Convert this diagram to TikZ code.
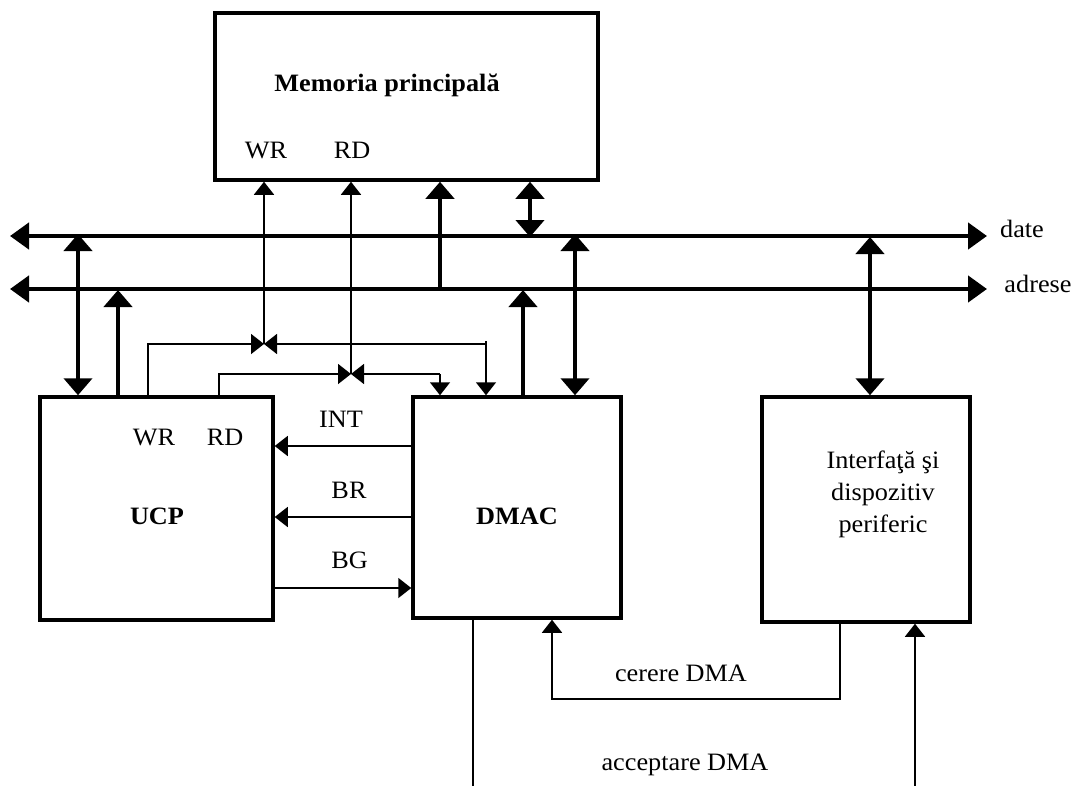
\documentclass[tikz,border=0pt]{standalone}
\usepackage{fontspec}
\setmainfont{Liberation Serif}[FakeStretch=1.05]
\usetikzlibrary{arrows.meta}
\begin{document}
\begin{tikzpicture}[x=1pt,y=-1pt,
  box/.style={draw,line width=3.5pt,inner sep=0pt},
  lbl/.style={inner sep=0pt,anchor=base,font=\fontsize{25}{32}\selectfont},
  bus/.style={line width=4.5pt,{Triangle[length=19pt,width=26pt]}-{Triangle[length=19pt,width=26pt]}},
  fat/.style={line width=4.5pt},
  fattip/.style={-{Triangle[length=17pt,width=28pt]}},
  fatboth/.style={{Triangle[length=17pt,width=28pt]}-{Triangle[length=17pt,width=28pt]}},
  sig/.style={line width=1.6pt},
  sigtip/.style={-{Triangle[length=13pt,width=20pt]}}]
\useasboundingbox (0,0) rectangle (1079,785);
\fill[white] (0,0) rectangle (1079,785);

% blocks
\node[box,minimum width=383pt,minimum height=167pt] (mem) at (406.5,96.5) {};
\node[box,minimum width=233pt,minimum height=223pt] (ucp) at (156.5,508.5) {};
\node[box,minimum width=208pt,minimum height=221pt] (dmac) at (517,507.5) {};
\node[box,minimum width=208pt,minimum height=225pt] (intf) at (866,509.5) {};

% block texts
\node[lbl,font=\fontsize{25}{32}\selectfont\bfseries] (tmem) at (387,91) {Memoria principală};
\node[lbl] (memwr) at (266,158) {WR};
\node[lbl] (memrd) at (352,158) {RD};
\node[lbl] (ucpwr) at (154,445) {WR};
\node[lbl] (ucprd) at (225,445) {RD};
\node[lbl,font=\fontsize{25}{32}\selectfont\bfseries] (tucp) at (157,524) {UCP};
\node[lbl,font=\fontsize{25}{32}\selectfont\bfseries] (tdmac) at (517,524) {DMAC};
\node[lbl,align=center,anchor=base] (tintf) at (883,532) {Interfaţă şi\\dispozitiv\\periferic};

% buses
\coordinate (dL) at (10,236);
\coordinate (dR) at (987,236);
\coordinate (aL) at (10,289);
\coordinate (aR) at (987,289);
\draw[bus] (dL) -- (dR);
\draw[bus] (aL) -- (aR);
\node[lbl] (tdate) at (1022,237) {date};
\node[lbl] (tadr) at (1038,292) {adrese};

% bus taps
\coordinate (u1) at (78,234);
\coordinate (u2) at (118,290);
\coordinate (m1) at (440,289);
\coordinate (m2) at (530,237);
\coordinate (d1) at (523,290);
\coordinate (d2) at (575,234);
\coordinate (p1) at (870,237);
\draw[fat,fatboth] (u1) -- (u1 |- ucp.north);
\draw[fat,fattip] (u2 |- ucp.north) -- (u2);
\draw[fat,fattip] (m1) -- (m1 |- mem.south);
\draw[fat,fatboth] (m2) -- (m2 |- mem.south);
\draw[fat,fattip] (d1 |- dmac.north) -- (d1);
\draw[fat,fatboth] (d2) -- (d2 |- dmac.north);
\draw[fat,fatboth] (p1) -- (p1 |- intf.north);

% WR and RD control lines
\coordinate (jwr) at (264,344);
\coordinate (jrd) at (351,374);
\coordinate (uwr) at (148,0);
\coordinate (urd) at (219,0);
\coordinate (dwr) at (486,344);
\coordinate (dwrtop) at (486,341);
\coordinate (drd) at (440,374);
\draw[sig,sigtip] (jwr) -- (jwr |- mem.south);
\draw[sig,sigtip] (jrd) -- (jrd |- mem.south);
\draw[sig,sigtip] (uwr |- ucp.north) |- (jwr);
\draw[sig,sigtip] (urd |- ucp.north) |- (jrd);
\draw[sig,sigtip] (dwr) -- (jwr);
\draw[sig,sigtip] (dwrtop) -- (dwrtop |- dmac.north);
\draw[sig,sigtip] (drd) -- (jrd);
\draw[sig,sigtip] (drd) -- (drd |- dmac.north);

% INT, BR, BG
\coordinate (yint) at (0,446);
\coordinate (ybr) at (0,517);
\coordinate (ybg) at (0,588);
\draw[sig,sigtip] (dmac.west |- yint) -- (ucp.east |- yint);
\draw[sig,sigtip] (dmac.west |- ybr) -- (ucp.east |- ybr);
\draw[sig,sigtip] (ucp.east |- ybg) -- (dmac.west |- ybg);
\node[lbl] (tint) at (341,427) {INT};
\node[lbl] (tbr) at (349,498) {BR};
\node[lbl] (tbg) at (349.5,568) {BG};

% DMA request / acknowledge
\coordinate (cer) at (840,699);
\coordinate (cerL) at (552,0);
\coordinate (acc1) at (473,790);
\coordinate (acc2) at (915,790);
\draw[sig,sigtip] (intf.south -| cer) -- (cer) -| (dmac.south -| cerL);
\draw[sig] (dmac.south -| acc1) -- (acc1);
\draw[sig,sigtip] (acc2) -- (acc2 |- intf.south);
\node[lbl] (tcer) at (681,681) {cerere DMA};
\node[lbl] (tacc) at (685,770) {acceptare DMA};
\end{tikzpicture}
\end{document}
